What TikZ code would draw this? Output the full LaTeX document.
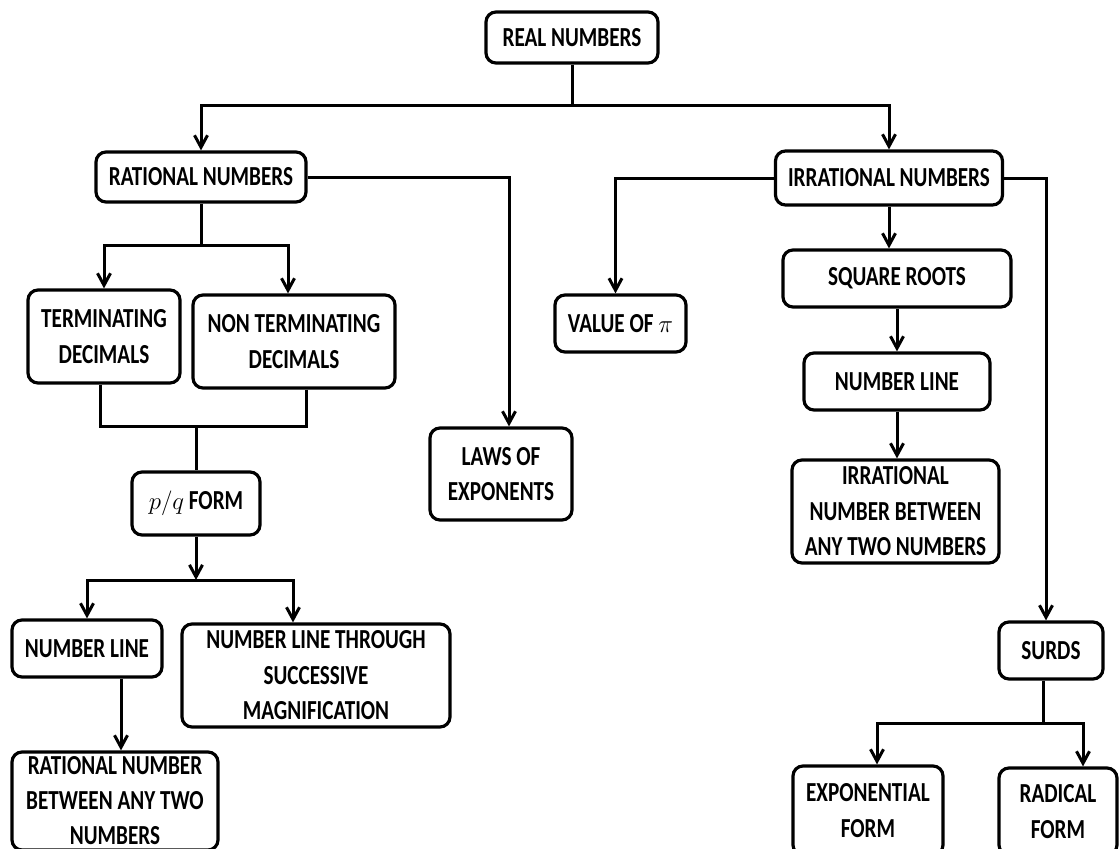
\documentclass[tikz,border=0pt]{standalone}
\usepackage{fontspec}
\setmainfont[FakeStretch=0.77]{Carlito}
\usetikzlibrary{arrows.meta}
\begin{document}
\begin{tikzpicture}[x=1pt,y=-1pt,
  box/.style={draw, rounded corners=10pt, line width=3.2pt, align=center,
    inner sep=0pt, font=\fontsize{27.5}{35.5}\selectfont\bfseries},
  link/.style={line width=3pt},
  arr/.style={link, -{Straight Barb[length=12pt,width=13pt,line width=3pt]}}]
\useasboundingbox (0,0) rectangle (1120,849);
\clip (0,0) rectangle (1120,849);

% top level
\node[box, minimum width=172pt, minimum height=51pt] (real) at (572,37.5) {REAL NUMBERS};
\node[box, minimum width=210pt, minimum height=50pt] (rat) at (201,177) {RATIONAL NUMBERS};
\node[box, minimum width=227pt, minimum height=54pt] (irr) at (889,178) {IRRATIONAL NUMBERS};

% rational branch
\node[box, minimum width=152pt, minimum height=93pt] (term) at (104,336.5) {TERMINATING\\DECIMALS};
\node[box, minimum width=202pt, minimum height=93pt] (nt) at (294,341.5) {NON TERMINATING\\DECIMALS};
\node[box, minimum width=142pt, minimum height=92pt] (laws) at (501,474) {LAWS OF\\EXPONENTS};
\node[box, minimum width=128pt, minimum height=63pt] (pq) at (196,503.5) {$p/q$ FORM};
\node[box, minimum width=150pt, minimum height=57pt] (nl1) at (87,648.5) {NUMBER LINE};
\node[box, minimum width=268pt, minimum height=103pt] (nlt) at (316,675.5) {NUMBER LINE THROUGH\\SUCCESSIVE\\MAGNIFICATION};
\node[box, minimum width=206pt, minimum height=98pt,
      font=\fontsize{27.5}{35}\selectfont\bfseries] (rnb) at (115,801) {RATIONAL NUMBER\\BETWEEN ANY TWO\\NUMBERS};

% irrational branch
\node[box, minimum width=131pt, minimum height=57pt] (pi) at (620.5,323.5) {VALUE OF $\pi$};
\node[box, minimum width=228pt, minimum height=57pt] (sq) at (897,278.5) {SQUARE ROOTS};
\node[box, minimum width=186pt, minimum height=57pt] (nl2) at (897,381.5) {NUMBER LINE};
\node[box, minimum width=207pt, minimum height=103pt] (inb) at (895.5,511.5) {IRRATIONAL\\NUMBER BETWEEN\\ANY TWO NUMBERS};
\node[box, minimum width=104pt, minimum height=57pt] (surds) at (1051,650.5) {SURDS};
\node[box, minimum width=150pt, minimum height=89pt] (exp) at (868,810.5) {EXPONENTIAL\\FORM};
\node[box, minimum width=118pt, minimum height=87pt] (rad) at (1058,811.5) {RADICAL\\FORM};

% junction points
\coordinate (rj) at (572,105);
\coordinate (tj) at (201,245);
\coordinate (dj) at (196,426);
\coordinate (pj) at (196,580);
\coordinate (sj) at (1043,723);

% off-centre attachment points
\coordinate (ntin)   at ([xshift=-6pt]nt.north);
\coordinate (lawsin) at ([xshift=8pt]laws.north);
\coordinate (termout) at ([xshift=-4pt]term.south);
\coordinate (ntout)  at ([xshift=12pt]nt.south);
\coordinate (nltin)  at ([xshift=-23pt]nlt.north);
\coordinate (nlout)  at ([xshift=34pt]nl1.south);
\coordinate (piin)   at ([xshift=-5pt]pi.north);
\coordinate (surdin) at ([xshift=-5pt]surds.north);
\coordinate (surdout) at ([xshift=-8pt]surds.south);
\coordinate (expin)  at ([xshift=9pt]exp.north);
\coordinate (radin)  at ([xshift=25pt]rad.north);

% connectors
\draw[link] (real) -- (rj);
\draw[arr] (rj) -| (rat);
\draw[arr] (rj) -| (irr.north);

\draw[link] (rat) -- (tj);
\draw[arr] (tj) -| (term);
\draw[arr] (tj) -| (ntin);
\draw[arr] (rat.east) -| (lawsin);

\draw[link] (termout) |- (dj);
\draw[link] (ntout) |- (dj);
\draw[link] (dj) -- (pq);
\draw[arr] (pq) -- (pj);
\draw[arr] (pj) -| (nl1.north);
\draw[arr] (pj) -| (nltin);
\draw[arr] (nlout) -- (nlout |- rnb.north);

\draw[arr] (irr.west) -| (piin);
\draw[arr] (irr.south) -- (irr.south |- sq.north);
\draw[arr] (sq) -- (nl2);
\draw[arr] (nl2.south) -- (nl2.south |- inb.north);
\draw[arr] (irr.east) -| (surdin);

\draw[link] (surdout) -- (sj);
\draw[arr] (sj) -| (expin);
\draw[arr] (sj) -| (radin);
\end{tikzpicture}
\end{document}
